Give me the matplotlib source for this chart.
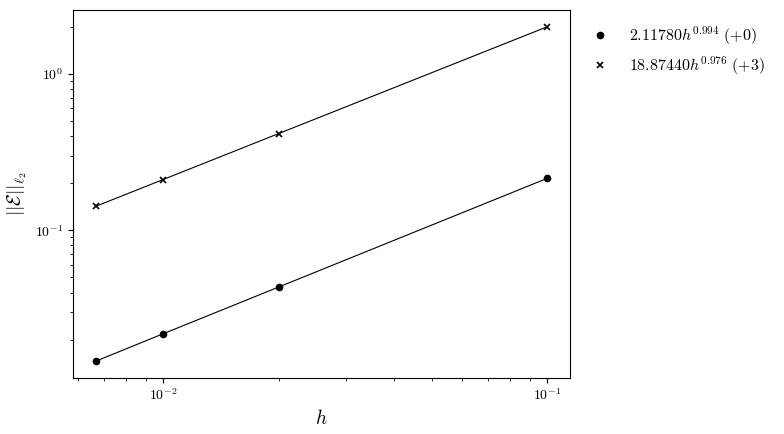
import matplotlib
matplotlib.use("Agg")
import matplotlib.pyplot as plt

plt.rcParams["mathtext.fontset"] = "cm"
plt.rcParams["font.family"] = "serif"
plt.rcParams["font.serif"] = ["cmr10", "DejaVu Serif"]
plt.rcParams["axes.formatter.use_mathtext"] = True

# mesh sizes and errors
h = [0.1, 0.02, 0.01, 0.00667]
err_p0 = [0.2147, 0.0434, 0.0218, 0.01455]
err_p3 = [1.995, 0.4147, 0.2107, 0.1419]
labels = [r"$2.11780h^{0.994}\ (+0)$", r"$18.87440h^{0.976}\ (+3)$"]

fig = plt.figure(figsize=(7.84, 4.34), dpi=100)
ax = fig.add_axes([0.093, 0.129, 0.634, 0.848])

ax.loglog(h, err_p0, "k-", lw=0.8)
ax.loglog(h, err_p3, "k-", lw=0.8)
ax.loglog(h, err_p0, "ko", ms=4.5, ls="none", label=labels[0])
ax.loglog(h, err_p3, "kx", ms=5, mew=1.2, ls="none", label=labels[1])

ax.set_xlabel(r"$h$", fontsize=14)
ax.set_ylabel(r"$||\mathcal{E}||_{\ell_2}$", fontsize=14)
ax.legend(loc="upper left", bbox_to_anchor=(1.0, 1.0), frameon=False, fontsize=11.5)

fig.savefig("out.png", dpi=100)
